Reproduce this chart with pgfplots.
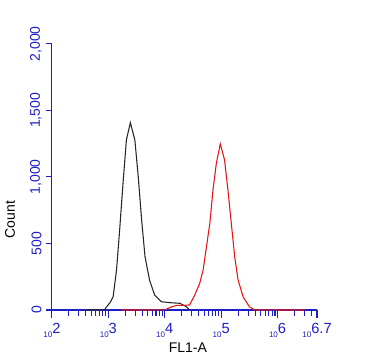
\documentclass[border=0pt]{standalone}
\usepackage{pgfplots}
\pgfplotsset{compat=1.18}
\usepackage{fontspec}
\setmainfont{Liberation Sans}
\definecolor{axblue}{RGB}{30,30,200}
\definecolor{curvered}{RGB}{230,20,20}
\newcommand\ep[1]{\raisebox{-0.8pt}{\fontsize{6}{7}\selectfont 10}\raisebox{1.6pt}{\fontsize{11}{12}\selectfont #1}}
\begin{document}
\begin{tikzpicture}
\begin{axis}[
  scale only axis, width=198.75pt, height=199.5pt,
  xmin=2, xmax=6.7, ymin=0, ymax=2000,
  axis x line=bottom, axis y line=left,
  x axis line style={-}, y axis line style={-},
  axis line style={draw=axblue, line width=0.8pt},
  clip=false,
  xtick={2,3,4,5,6,6.7},
  xticklabels={\ep{2},\ep{3},\ep{4},\ep{5},\ep{6},\ep{6.7}},
  ytick={0,500,1000,1500,2000},
  tick align=outside,
  tick style={draw=axblue, line width=0.8pt},
  xtick style={draw=none},
  tick label style={axblue},
  xticklabel style={yshift=-2.5pt},
  yticklabel style={rotate=90, anchor=south, font=\fontsize{10.5}{11}\selectfont},
  /pgf/number format/.cd, 1000 sep={,}, assume math mode=true,
  /pgfplots/.cd,
  xlabel={FL1-A}, ylabel={Count},
  label style={font=\fontsize{10.5}{11}\selectfont, black},
  xlabel style={at={(rel axis cs:0.513,-0.143)}, anchor=center},
  ylabel style={at={(rel axis cs:-0.158,0.34)}, anchor=center, rotate=0},
]
\addplot[black!85, line width=0.8pt] coordinates {
(2.58,0)(2.93,0)(2.97,25)(3.03,55)(3.085,100)(3.145,300)(3.20,600)(3.26,952)
(3.32,1278)(3.39,1408)(3.47,1278)(3.53,1002)(3.59,677)(3.65,401)(3.73,226)
(3.82,113)(3.94,62)(4.09,55)(4.27,50)(4.38,25)(4.44,0)
};
\addplot[curvered, line width=0.8pt] coordinates {
(3.23,0)(4.00,0)(4.10,20)(4.21,35)(4.35,35)(4.44,38)(4.53,110)(4.62,200)(4.68,300)
(4.74,476)(4.80,652)(4.855,902)(4.915,1103)(4.985,1248)(5.06,1128)(5.12,902)
(5.18,652)(5.24,401)(5.30,226)(5.39,98)(5.50,25)(5.59,0)(6.5,0)
};
\pgfplotsinvokeforeach{2,3,4,5,6,6.7}{
  \draw[axblue, line width=0.8pt] (axis cs:#1,0) -- ([yshift=-6pt]axis cs:#1,0);
}
\pgfplotsinvokeforeach{2.30103,2.47712,2.60206,2.69897,2.77815,2.84510,2.90309,2.95424,
    3.30103,3.47712,3.60206,3.69897,3.77815,3.84510,3.90309,3.95424,
    4.30103,4.47712,4.60206,4.69897,4.77815,4.84510,4.90309,4.95424,
    5.30103,5.47712,5.60206,5.69897,5.77815,5.84510,5.90309,5.95424,
    6.30103,6.47712,6.60206}{
  \draw[axblue, line width=0.8pt] (axis cs:#1,0) -- ([yshift=-4.5pt]axis cs:#1,0);
}
\path (rel axis cs:-0.196,-0.173) rectangle (rel axis cs:1.181,1.165);
\end{axis}
\end{tikzpicture}
\end{document}
